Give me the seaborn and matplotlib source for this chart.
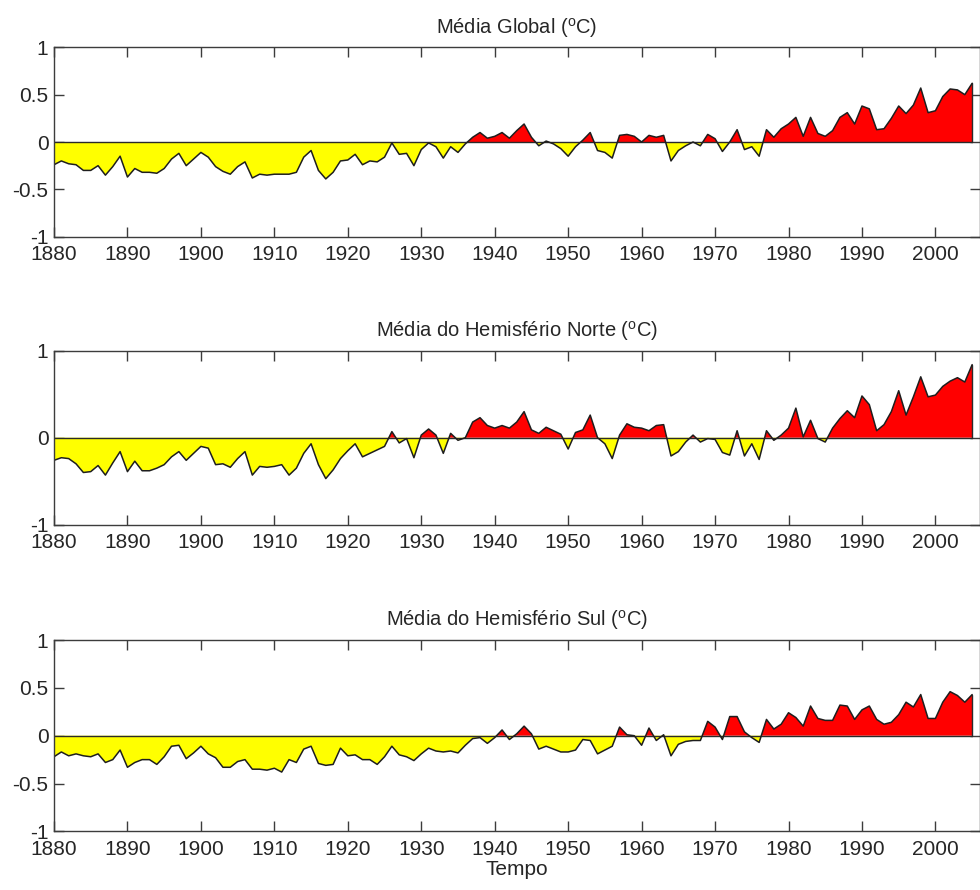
import numpy as np
import pandas as pd
import matplotlib
matplotlib.use("Agg")
import matplotlib.pyplot as plt
import seaborn as sns

years = list(range(1880, 2006))

global_vals = [
    -0.24, -0.20, -0.23, -0.24, -0.30, -0.30, -0.25, -0.35, -0.26, -0.15,
    -0.37, -0.28, -0.32, -0.32, -0.33, -0.28, -0.18, -0.12, -0.25, -0.18,
    -0.11, -0.16, -0.26, -0.31, -0.34, -0.26, -0.21, -0.38, -0.34, -0.35,
    -0.34, -0.34, -0.34, -0.32, -0.16, -0.09, -0.30, -0.39, -0.32, -0.20,
    -0.19, -0.13, -0.24, -0.20, -0.21, -0.16, -0.01, -0.13, -0.12, -0.25,
    -0.08, -0.01, -0.05, -0.17, -0.05, -0.11, -0.02, 0.05, 0.10, 0.04,
    0.06, 0.10, 0.04, 0.12, 0.19, 0.05, -0.04, 0.01, -0.02, -0.07,
    -0.15, -0.05, 0.02, 0.10, -0.09, -0.11, -0.17, 0.07, 0.08, 0.06,
    0.00, 0.07, 0.05, 0.07, -0.20, -0.09, -0.04, 0.00, -0.04, 0.08,
    0.035, -0.10, 0.00, 0.13, -0.08, -0.05, -0.15, 0.13, 0.05, 0.14,
    0.19, 0.26, 0.06, 0.26, 0.09, 0.06, 0.12, 0.26, 0.31, 0.19,
    0.38, 0.35, 0.13, 0.14, 0.25, 0.38, 0.30, 0.39, 0.57, 0.31,
    0.33, 0.48, 0.56, 0.55, 0.50, 0.62,
]

nh_vals = [
    -0.26, -0.23, -0.24, -0.30, -0.40, -0.39, -0.32, -0.43, -0.29, -0.16,
    -0.39, -0.27, -0.38, -0.38, -0.35, -0.31, -0.22, -0.16, -0.26, -0.18,
    -0.10, -0.12, -0.31, -0.30, -0.34, -0.24, -0.16, -0.43, -0.33, -0.34,
    -0.33, -0.31, -0.43, -0.35, -0.18, -0.07, -0.31, -0.47, -0.37, -0.24,
    -0.15, -0.07, -0.22, -0.18, -0.14, -0.10, 0.07, -0.06, -0.01, -0.23,
    0.03, 0.10, 0.03, -0.18, 0.05, -0.03, 0.00, 0.18, 0.23, 0.14,
    0.11, 0.14, 0.11, 0.18, 0.30, 0.09, 0.05, 0.12, 0.08, 0.04,
    -0.13, 0.06, 0.09, 0.26, 0.00, -0.07, -0.24, 0.03, 0.16, 0.12,
    0.11, 0.08, 0.14, 0.15, -0.21, -0.16, -0.05, 0.03, -0.05, -0.01,
    -0.02, -0.17, -0.20, 0.08, -0.21, -0.07, -0.25, 0.08, -0.03, 0.03,
    0.11, 0.34, 0.01, 0.20, -0.01, -0.05, 0.11, 0.22, 0.31, 0.23,
    0.48, 0.38, 0.08, 0.15, 0.30, 0.54, 0.26, 0.47, 0.70, 0.47,
    0.49, 0.59, 0.65, 0.69, 0.64, 0.84,
]

sh_vals = [
    -0.22, -0.17, -0.21, -0.19, -0.21, -0.22, -0.19, -0.28, -0.25, -0.15,
    -0.33, -0.28, -0.25, -0.25, -0.30, -0.22, -0.11, -0.10, -0.24, -0.18,
    -0.11, -0.19, -0.23, -0.33, -0.33, -0.27, -0.25, -0.35, -0.35, -0.36,
    -0.34, -0.38, -0.25, -0.28, -0.14, -0.11, -0.29, -0.31, -0.30, -0.13,
    -0.21, -0.20, -0.25, -0.25, -0.30, -0.22, -0.11, -0.20, -0.22, -0.26,
    -0.19, -0.13, -0.16, -0.17, -0.16, -0.18, -0.10, -0.03, -0.02, -0.08,
    -0.02, 0.06, -0.04, 0.02, 0.10, 0.02, -0.14, -0.11, -0.14, -0.17,
    -0.17, -0.15, -0.04, -0.05, -0.19, -0.15, -0.11, 0.09, 0.01, 0.00,
    -0.10, 0.08, -0.05, 0.01, -0.21, -0.09, -0.06, -0.05, -0.05, 0.15,
    0.09, -0.04, 0.20, 0.20, 0.04, -0.02, -0.07, 0.17, 0.07, 0.12,
    0.24, 0.19, 0.10, 0.31, 0.18, 0.16, 0.16, 0.32, 0.31, 0.17,
    0.27, 0.31, 0.17, 0.12, 0.14, 0.22, 0.35, 0.30, 0.43, 0.18,
    0.18, 0.35, 0.46, 0.42, 0.35, 0.43,
]

titles = [
    r"Média Global ($^{\rm o}$C)",
    r"Média do Hemisfério Norte ($^{\rm o}$C)",
    r"Média do Hemisfério Sul ($^{\rm o}$C)",
]
xtick_vals = list(range(1880, 2001, 10))
yticks_full = [-1, -0.5, 0, 0.5, 1]
ylabels_full = ["-1", "-0.5", "0", "0.5", "1"]
yticks_nh = [-1, 0, 1]
ylabels_nh = ["-1", "0", "1"]
xlabel_text = "Tempo"

sns.set_theme(style="ticks")
plt.rcParams["font.family"] = ["Liberation Sans", "DejaVu Sans"]
plt.rcParams["mathtext.fontset"] = "custom"
plt.rcParams["mathtext.rm"] = "Liberation Sans"
plt.rcParams["axes.unicode_minus"] = False

fig = plt.figure(figsize=(9.8, 8.9), dpi=100)
W, H = 980.0, 890.0
left = 54 / W
width = (979.5 - 54) / W
panels = [
    (global_vals, titles[0], 47.3, 236.7, yticks_full, ylabels_full),
    (nh_vals, titles[1], 350.7, 524.7, yticks_nh, ylabels_nh),
    (sh_vals, titles[2], 640.0, 831.4, yticks_full, ylabels_full),
]

spine_col = "#3c3c3c"
for i, (vals, title, top_px, bot_px, yt, yl) in enumerate(panels):
    ax = fig.add_axes([left, 1 - bot_px / H, width, (bot_px - top_px) / H])
    df = pd.DataFrame({"ano": years, "valor": vals})
    x = np.array(years, dtype=float)
    y = np.array(vals, dtype=float)
    ax.fill_between(x, 0, y, where=y >= 0, interpolate=True,
                    facecolor="#FF0000", edgecolor="none")
    ax.fill_between(x, 0, y, where=y <= 0, interpolate=True,
                    facecolor="#FFFF00", edgecolor="none")
    ax.plot([x[0], x[-1]], [0, 0], color="#2a2a2a", lw=1.0)
    ax.plot([x[-1], x[-1]], [0, y[-1]], color="#2a2a2a", lw=1.0)
    sns.lineplot(data=df, x="ano", y="valor", ax=ax, color="#1e1e1e",
                 lw=1.1, estimator=None)
    ax.set_xlim(1880, 2006)
    ax.set_ylim(-1, 1)
    ax.set_xticks(xtick_vals)
    ax.set_xticklabels([str(v) for v in xtick_vals])
    ax.set_yticks(yt)
    ax.set_yticklabels(yl)
    ax.tick_params(direction="in", length=7, width=1, color=spine_col,
                   labelsize=15, top=True, right=True, pad=4)
    ax.tick_params(axis="x", pad=6)
    for s in ax.spines.values():
        s.set_visible(True)
        s.set_color(spine_col)
        s.set_linewidth(1.0)
    ax.set_title(title, fontsize=14.5, pad=10)
    ax.set_ylabel("")
    if i == 2:
        ax.set_xlabel(xlabel_text, fontsize=15, labelpad=1)
    else:
        ax.set_xlabel("")

fig.savefig("out.png", dpi=100)
